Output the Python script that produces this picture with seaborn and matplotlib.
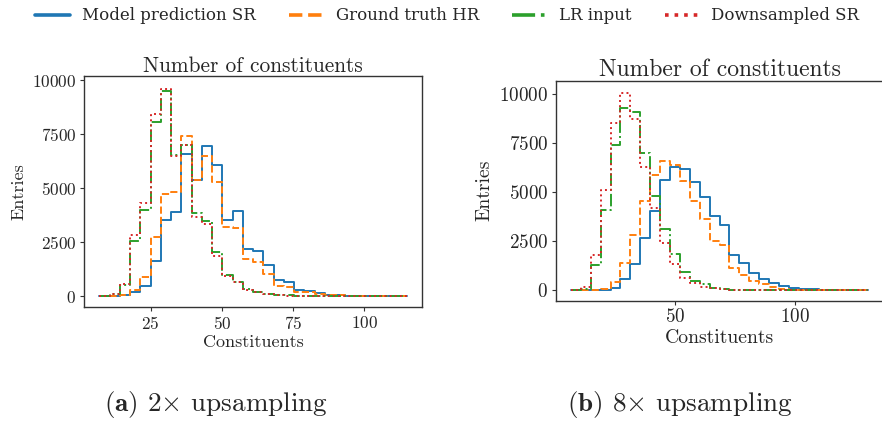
import numpy as np
import pandas as pd
import matplotlib
matplotlib.use("Agg")
import matplotlib.pyplot as plt
from matplotlib.lines import Line2D
import seaborn as sns

# ---- histogram contents (entries per bin) ----
edges_2x = np.linspace(7.0, 115.0, 31).tolist()
edges_8x = np.linspace(6.6, 130.5, 31).tolist()

sr_2x = [0, 10, 60, 190, 485, 1650, 3530, 3900, 6580, 5400, 6940, 6060, 3550, 3950,
         2170, 2100, 1430, 770, 646, 292, 247, 139, 77, 60, 30, 20, 15, 10, 5, 5]
hr_2x = [0, 30, 80, 290, 880, 2730, 4750, 4845, 7400, 5380, 6500, 5270, 3190, 3150,
         1740, 1590, 1034, 494, 447, 216, 185, 93, 60, 40, 20, 15, 10, 5, 5, 5]
lr_2x = [0, 90, 525, 2577, 3996, 8055, 9520, 6542, 7005, 3873, 3503, 2068, 987, 679,
         340, 216, 120, 60, 40, 25, 15, 10, 5, 5, 5, 0, 0, 0, 0, 0]
ds_2x = [15, 108, 571, 2840, 4305, 8425, 9600, 6495, 7005, 3688, 3348, 1867, 925, 648,
         293, 185, 100, 50, 30, 20, 10, 5, 5, 5, 0, 0, 0, 0, 0, 0]

sr_8x = [0, 0, 10, 20, 100, 560, 1360, 2644, 4051, 5610, 6255, 6160, 5500, 4763,
         3770, 3330, 1797, 1373, 864, 560, 356, 200, 120, 60, 45, 20, 10, 5, 5, 5]
hr_8x = [0, 0, 10, 70, 407, 1390, 2814, 4550, 5865, 6585, 6373, 5540, 4560, 3640,
         2525, 2305, 1140, 790, 460, 305, 165, 68, 34, 15, 10, 5, 5, 0, 0, 0]
lr_8x = [0, 80, 1290, 4085, 7370, 9255, 9051, 7000, 4814, 3119, 1830, 940, 480, 300,
         100, 50, 30, 15, 10, 5, 5, 0, 0, 0, 0, 0, 0, 0, 0, 0]
ds_8x = [20, 186, 1780, 5120, 8510, 10050, 8730, 6290, 4170, 2390, 1340, 610, 350, 186,
         100, 50, 20, 10, 5, 5, 0, 0, 0, 0, 0, 0, 0, 0, 0, 0]

labels = ["Model prediction SR", "Ground truth HR", "LR input", "Downsampled SR"]
colors = ["#1f77b4", "#ff7f0e", "#2ca02c", "#d62728"]
styles = ["-", "--", "-.", ":"]

sns.set_style("ticks")
plt.rcParams["font.family"] = ["cmr10", "DejaVu Serif"]
plt.rcParams["mathtext.fontset"] = "cm"
plt.rcParams["axes.formatter.use_mathtext"] = True
plt.rcParams["axes.edgecolor"] = "#333333"
plt.rcParams["axes.linewidth"] = 1.0

fig = plt.figure(figsize=(8.82, 4.21), dpi=100)
ax1 = fig.add_axes([84 / 882, 1 - 307 / 421, 338 / 882, 231 / 421])
ax2 = fig.add_axes([556 / 882, 1 - 300.7 / 421, 327 / 882, 220 / 421])


def draw_panel(ax, edges, series, fs_tick, fs_label, fs_title, ylim, xlim, xticks):
    centers = [0.5 * (a + b) for a, b in zip(edges[:-1], edges[1:])]
    for vals, col, ls, lab in zip(series, colors, styles, labels):
        df = pd.DataFrame({"Constituents": centers, "w": vals})
        sns.histplot(data=df, x="Constituents", weights="w", bins=edges,
                     element="step", fill=False, color=col, linestyle=ls,
                     linewidth=1.4, ax=ax, label=lab)
    ax.set_xlim(*xlim)
    ax.set_ylim(*ylim)
    ax.set_xticks(xticks)
    ax.set_yticks([0, 2500, 5000, 7500, 10000])
    ax.tick_params(labelsize=fs_tick, length=2.6, width=0.8, pad=3.0,
                   color="#333333")
    ax.set_xlabel("Constituents", fontsize=fs_label, labelpad=2)
    ax.set_ylabel("Entries", fontsize=fs_label, labelpad=4)
    ax.set_title("Number of constituents", fontsize=fs_title, pad=3)
    for s in ax.spines.values():
        s.set_visible(True)


draw_panel(ax1, edges_2x, [sr_2x, hr_2x, lr_2x, ds_2x], 12.4, 13.0, 15.4,
           (-495, 10200), (1.6, 120.3), [25, 50, 75, 100])
draw_panel(ax2, edges_8x, [sr_8x, hr_8x, lr_8x, ds_8x], 13.8, 14.2, 17.0,
           (-529, 10660), (0.4, 136.7), [50, 100])

handles = [Line2D([], [], color=c, linestyle=ls, linewidth=2.6)
           for c, ls in zip(colors, styles)]
fig.legend(handles, labels, loc="center", bbox_to_anchor=(0.507, 0.962),
           ncol=4, frameon=False, handlelength=2.1, handletextpad=0.7,
           columnspacing=2.0, prop={"family": "DejaVu Serif", "size": 12})

fig.text(216 / 882, 1 - 405 / 421, r"$\mathbf{(a)}$ 2" + "\u00d7 upsampling",
         ha="center", va="center", fontsize=19.5)
fig.text(680 / 882, 1 - 405 / 421, r"$\mathbf{(b)}$ 8" + "\u00d7 upsampling",
         ha="center", va="center", fontsize=19.5)

fig.savefig("out.png", dpi=100)
